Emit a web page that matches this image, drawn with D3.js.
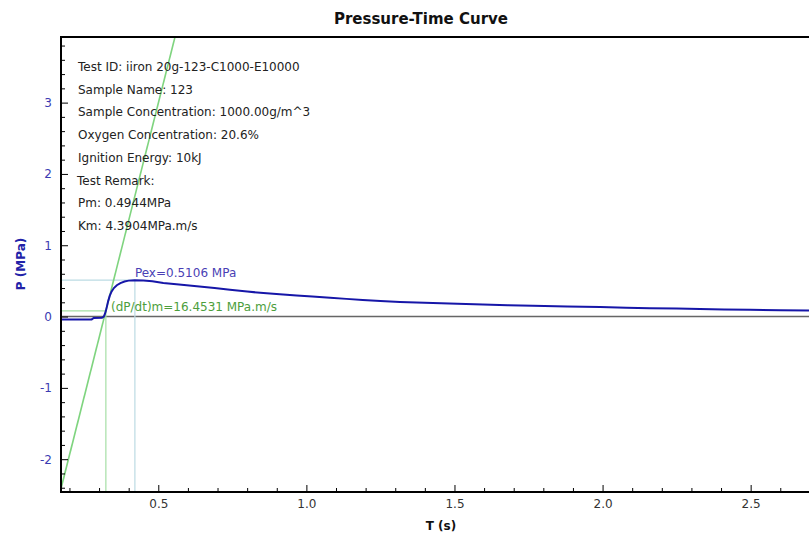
<!DOCTYPE html>
<html>
<head>
<meta charset="utf-8">
<script src="https://cdn.jsdelivr.net/npm/d3@7"></script>
<style>
  body { margin: 0; background: #fff; }
  svg { display: block; font-family: "DejaVu Sans", sans-serif; }
</style>
</head>
<body>
<svg width="809" height="535"></svg>
<script>
// data
var timeS = [0.171, 0.275, 0.282, 0.310, 0.316, 0.320, 0.323, 0.327, 0.331, 0.336, 0.342, 0.350, 0.360, 0.372, 0.386, 0.400,
  0.421, 0.45, 0.48, 0.517, 0.57, 0.63, 0.69, 0.742, 0.80, 0.855, 0.91, 0.967, 1.02, 1.08, 1.135, 1.19, 1.25, 1.316,
  1.427, 1.51, 1.596, 1.68, 1.765, 1.88, 1.992, 2.08, 2.16, 2.25, 2.329, 2.41, 2.498, 2.60, 2.697];
var pressureMPa = [-0.040, -0.040, -0.020, -0.018, 0.000, 0.040, 0.080, 0.150, 0.220, 0.290, 0.350, 0.400, 0.440, 0.470, 0.492, 0.504,
  0.5106, 0.507, 0.495, 0.470, 0.450, 0.425, 0.400, 0.375, 0.350, 0.330, 0.312, 0.295, 0.280, 0.265, 0.248, 0.232, 0.218, 0.205,
  0.190, 0.180, 0.168, 0.160, 0.152, 0.142, 0.133, 0.125, 0.118, 0.112, 0.106, 0.100, 0.095, 0.090, 0.086];

var xTicks = [0.5, 1.0, 1.5, 2.0, 2.5];
var yTicks = [-2, -1, 0, 1, 2, 3];

var pexValue = 0.5106, pexTime = 0.421;
var dpdtMax = 16.4531, tanTime = 0.323, tanP = 0.08;

var infoLines = [
  "Test ID: iiron 20g-123-C1000-E10000",
  "Sample Name: 123",
  "Sample Concentration: 1000.00g/m^3",
  "Oxygen Concentration: 20.6%",
  "Ignition Energy: 10kJ",
  "Test Remark:",
  "Pm: 0.4944MPa",
  "Km: 4.3904MPa.m/s"
];

var plotL = 61, plotT = 37, plotR = 809, plotB = 492;
var svg = d3.select("svg");

var x = d3.scaleLinear().domain([0.1715, 2.697]).range([plotL, plotR]);
var y = d3.scaleLinear().domain([-2.46, 3.92]).range([plotB, plotT]);

svg.append("defs").append("clipPath").attr("id", "plot")
  .append("rect").attr("x", plotL).attr("y", plotT).attr("width", plotR - plotL).attr("height", plotB - plotT);

var plot = svg.append("g").attr("clip-path", "url(#plot)");

// zero line
plot.append("line")
  .attr("x1", plotL).attr("x2", plotR)
  .attr("y1", y(0)).attr("y2", y(0))
  .attr("stroke", "#666").attr("stroke-width", 1.5);

// reference lines for peak
plot.append("path")
  .attr("d", "M" + plotL + "," + y(pexValue) + "H" + x(pexTime) + "V" + plotB)
  .attr("fill", "none").attr("stroke", "#bcdbe3").attr("stroke-width", 1.2);

// reference lines for max slope
plot.append("path")
  .attr("d", "M" + plotL + "," + y(tanP) + "H" + x(tanTime) + "V" + plotB)
  .attr("fill", "none").attr("stroke", "#a6dfa6").attr("stroke-width", 1.2);

// tangent line
var pLo = y.domain()[0], pHi = y.domain()[1];
plot.append("line")
  .attr("x1", x(tanTime + (pLo - tanP) / dpdtMax)).attr("y1", y(pLo))
  .attr("x2", x(tanTime + (pHi - tanP) / dpdtMax)).attr("y2", y(pHi))
  .attr("stroke", "#7fd47f").attr("stroke-width", 1.6);

// pressure curve
var line = d3.line()
  .x(function(d, i) { return x(timeS[i]); })
  .y(function(d) { return y(d); });

plot.append("path")
  .datum(pressureMPa)
  .attr("d", line)
  .attr("fill", "none")
  .attr("stroke", "#1616a8")
  .attr("stroke-width", 2);

// axes
var yMinor = d3.range(-24, 39, 2).map(function(v) { return v / 10; }).filter(function(v) { return Math.abs(v - Math.round(v)) > 0.01; });
var xMinor = d3.range(2, 27).map(function(v) { return v / 10; }).filter(function(v) { return Math.abs(v * 2 - Math.round(v * 2)) > 0.01; });

svg.append("g").attr("transform", "translate(" + plotL + ",0)")
  .call(d3.axisLeft(y).tickValues(yMinor).tickSize(-4).tickFormat(""))
  .call(function(g) { g.select(".domain").remove(); });

var yAx = svg.append("g").attr("transform", "translate(" + plotL + ",0)")
  .call(d3.axisLeft(y).tickValues(yTicks).tickSize(-7).tickPadding(9).tickFormat(function(d) { return String(d); }));
yAx.select(".domain").remove();
yAx.selectAll("text").attr("fill", "#3b3bb2").attr("font-size", 12).attr("font-family", "DejaVu Sans");

svg.append("g").attr("transform", "translate(0," + plotB + ")")
  .call(d3.axisBottom(x).tickValues(xMinor).tickSize(-4).tickFormat(""))
  .call(function(g) { g.select(".domain").remove(); });

var xAx = svg.append("g").attr("transform", "translate(0," + plotB + ")")
  .call(d3.axisBottom(x).tickValues(xTicks).tickSize(-7).tickPadding(7).tickFormat(function(d) { return d.toFixed(1); }));
xAx.select(".domain").remove();
xAx.selectAll("text").attr("fill", "#333").attr("font-size", 12).attr("font-family", "DejaVu Sans");

svg.selectAll(".tick line").attr("stroke", "#000").attr("stroke-width", 1);

// frame
svg.append("path")
  .attr("d", "M" + plotR + "," + plotT + "H" + plotL + "V" + plotB + "H" + plotR)
  .attr("fill", "none").attr("stroke", "#000").attr("stroke-width", 2);

// title and axis titles
svg.append("text").attr("x", 421).attr("y", 24)
  .attr("text-anchor", "middle").attr("font-size", 15).attr("font-weight", "bold")
  .attr("fill", "#111").text("Pressure-Time Curve");

svg.append("text").attr("x", 441).attr("y", 530)
  .attr("text-anchor", "middle").attr("font-size", 12).attr("font-weight", "bold")
  .attr("fill", "#111").text("T (s)");

svg.append("text").attr("transform", "translate(25,264) rotate(-90)")
  .attr("text-anchor", "middle").attr("font-size", 12).attr("font-weight", "bold")
  .attr("fill", "#2222a8").text("P (MPa)");

// info block
svg.append("g").selectAll("text")
  .data(infoLines)
  .enter().append("text")
  .attr("x", function(d) { return d === "Test Remark:" ? 77 : 78; })
  .attr("y", function(d, i) { return 71 + i * 22.7; })
  .attr("font-size", 12)
  .attr("fill", "#222")
  .text(function(d) { return d; });

// annotations
svg.append("text").attr("x", x(pexTime)).attr("y", 277)
  .attr("font-size", 12).attr("fill", "#4a3fb5")
  .text("Pex=" + pexValue.toFixed(4) + " MPa");

svg.append("text").attr("x", 111).attr("y", 311)
  .attr("font-size", 12).attr("fill", "#4c9e3c")
  .text("(dP/dt)m=" + dpdtMax.toFixed(4) + " MPa.m/s");
</script>
</body>
</html>
